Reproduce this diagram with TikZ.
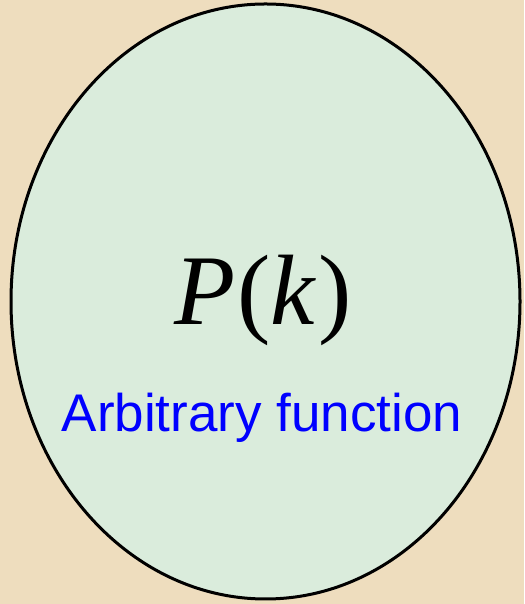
\documentclass[tikz,border=0pt]{standalone}
\usepackage{fontspec}
\setmainfont{Liberation Serif}
\setsansfont{Liberation Sans}
\usepackage{tikz}
\usetikzlibrary{shapes.geometric, positioning}
\definecolor{mybeige}{RGB}{238,221,190}
\definecolor{mymint}{RGB}{218,236,220}
\definecolor{myblue}{RGB}{0,0,255}
\tikzset{
  blob/.style={ellipse, draw=black, fill=mymint, line width=3pt,
    minimum width=509pt, minimum height=595pt, inner sep=0pt},
  symbol/.style={font=\fontsize{100}{104}\selectfont, anchor=base},
  caption/.style={font=\sffamily\fontsize{53}{57}\selectfont, color=myblue, anchor=base}
}

\begin{document}
\begin{tikzpicture}[x=1pt, y=1pt]
  % Background
  \fill[mybeige] (0,0) rectangle (524,604);
  \useasboundingbox (0,0) rectangle (524,604);

  % Ellipse
  \node[blob] (spectrum) at (265.5,302.5) {};

  % Labels
  \node[symbol] (pk) at (263,279) {\textit{P}\kern2pt(\textit{k}\kern2pt)};
  \node[caption] (desc) at (262,172) {Arbitrary function};
\end{tikzpicture}
\end{document}
